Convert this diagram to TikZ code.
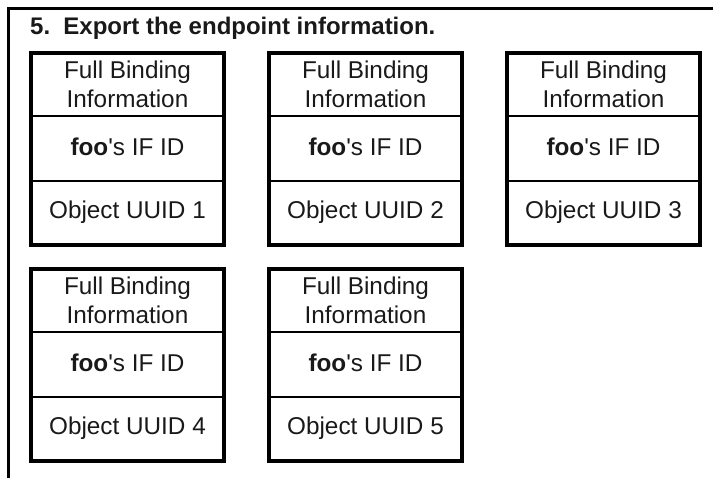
\documentclass[tikz,border=0pt]{standalone}
\usepackage{fontspec}
\setmainfont{Liberation Sans}
\begin{document}
\begin{tikzpicture}[x=1pt,y=-1pt,
  box/.style={draw, line width=4pt, minimum width=193pt, minimum height=192pt, inner sep=0pt, anchor=north west},
  celltext/.style={font=\fontsize{24.3}{29}\selectfont, align=center, inner sep=0pt, text=black!90},
  divider/.style={line width=1.2pt},
  frame/.style={line width=3pt},
  title/.style={font=\fontsize{24}{28}\selectfont\bfseries, anchor=base west, inner sep=0pt, text=black!90}]
\useasboundingbox (0,0) rectangle (713,478);
% open frame
\coordinate (ftl) at (8.5,8.5);
\coordinate (ftr) at (713,8.5);
\coordinate (fbl) at (8.5,478);
\draw[frame] (ftr) -- (ftl) -- (fbl);
\node[title] (ttl) at (30,35) {5.\hspace{0.55em}Export the endpoint information.};
\foreach \n/\x/\y in {1/29/51, 2/267/51, 3/505/51, 4/29/267, 5/267/267}{
  \node[box] (b\n) at (\x,\y) {};
  \draw[divider] ([yshift=-65pt]b\n.north west) -- ([yshift=-65pt]b\n.north east);
  \draw[divider] ([yshift=-130pt]b\n.north west) -- ([yshift=-130pt]b\n.north east);
  \node[celltext] (b\n t) at ([yshift=-33pt]b\n.north) {Full Binding\\Information};
  \node[celltext, anchor=base] (b\n m) at ([yshift=-105pt]b\n.north) {\textbf{foo}\textquotesingle s IF ID};
  \node[celltext, anchor=base] (b\n b) at ([yshift=-168pt]b\n.north) {Object UUID \n};
}
\end{tikzpicture}
\end{document}
